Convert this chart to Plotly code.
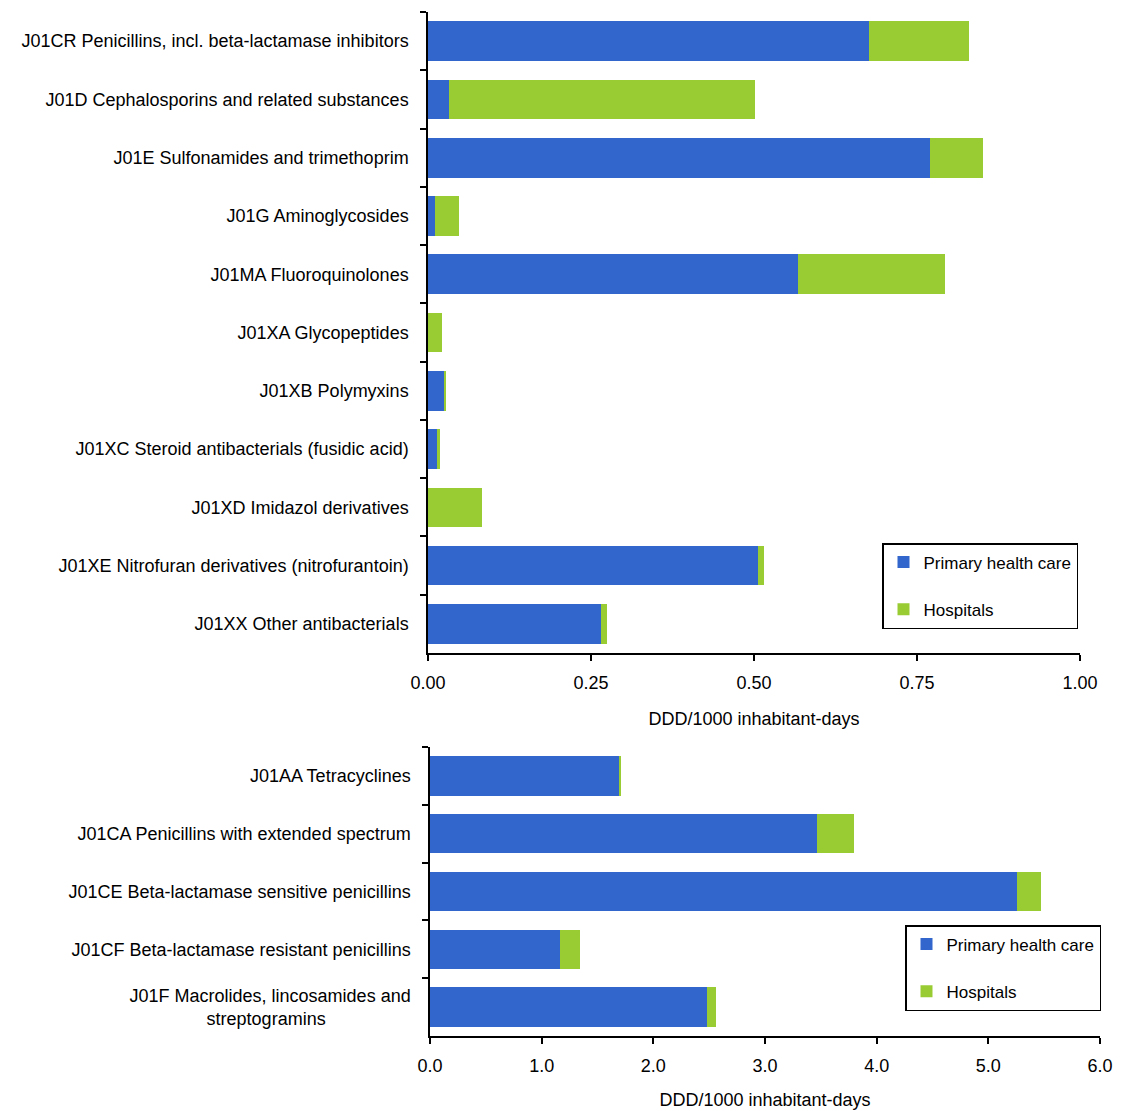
import plotly.graph_objects as go

# ---- data: upper panel ----
top_categories = [
    "J01CR Penicillins, incl. beta-lactamase inhibitors",
    "J01D Cephalosporins and related substances",
    "J01E Sulfonamides and trimethoprim",
    "J01G Aminoglycosides",
    "J01MA Fluoroquinolones",
    "J01XA Glycopeptides",
    "J01XB Polymyxins",
    "J01XC Steroid antibacterials (fusidic acid)",
    "J01XD Imidazol derivatives",
    "J01XE Nitrofuran derivatives (nitrofurantoin)",
    "J01XX Other antibacterials",
]
top_primary = [0.676, 0.032, 0.770, 0.011, 0.567, 0.0, 0.025, 0.014, 0.0, 0.506, 0.266]
top_hospitals = [0.154, 0.470, 0.081, 0.037, 0.226, 0.021, 0.002, 0.004, 0.083, 0.009, 0.009]
top_ticks = [0.0, 0.25, 0.5, 0.75, 1.0]

# ---- data: lower panel ----
bottom_categories = [
    "J01AA Tetracyclines",
    "J01CA Penicillins with extended spectrum",
    "J01CE Beta-lactamase sensitive penicillins",
    "J01CF Beta-lactamase resistant penicillins",
    "J01F Macrolides, lincosamides and<br>streptogramins" + "\u00a0" * 17,
]
bottom_primary = [1.69, 3.47, 5.26, 1.16, 2.48]
bottom_hospitals = [0.02, 0.33, 0.21, 0.18, 0.08]
bottom_ticks = [0, 1, 2, 3, 4, 5, 6]

series_names = ["Primary health care", "Hospitals"]
BLUE = "#3366CC"
GREEN = "#99CC33"
FONT = "Liberation Sans, Arial, sans-serif"

fig = go.Figure()

for name, vals, col, grp in [(series_names[0], top_primary, BLUE, "a"),
                             (series_names[1], top_hospitals, GREEN, "b")]:
    fig.add_trace(go.Bar(x=vals, y=top_categories, orientation="h", name=name,
                         marker=dict(color=col, line=dict(width=0)),
                         xaxis="x", yaxis="y", legend="legend", legendgroup="t" + grp))

for name, vals, col, grp in [(series_names[0], bottom_primary, BLUE, "a"),
                             (series_names[1], bottom_hospitals, GREEN, "b")]:
    fig.add_trace(go.Bar(x=vals, y=bottom_categories, orientation="h", name=name,
                         marker=dict(color=col, line=dict(width=0)),
                         xaxis="x2", yaxis="y2", legend="legend2", legendgroup="b" + grp))

axis_common = dict(showline=True, linecolor="black", linewidth=1.5, ticks="outside",
                   ticklen=6, tickwidth=1.5, tickcolor="black", showgrid=False,
                   zeroline=False, automargin=False,
                   tickfont=dict(family=FONT, size=18, color="black"))

title_font = dict(family=FONT, size=18, color="black")

legend_common = dict(bgcolor="white", bordercolor="black", borderwidth=1.5,
                     font=dict(family=FONT, size=17, color="black"),
                     tracegroupgap=22, xanchor="left", yanchor="top",
                     entrywidth=172, entrywidthmode="pixels", traceorder="grouped")

fig.update_layout(
    width=1126, height=1111,
    margin=dict(l=0, r=0, t=0, b=0),
    paper_bgcolor="white", plot_bgcolor="white",
    barmode="stack", bargap=0.32,
    font=dict(family=FONT, size=17, color="black"),
    xaxis=dict(domain=[0.3730, 0.9520], range=[0, 1.0], tickvals=top_ticks,
               tickformat=".2f", anchor="y", ticklabelstandoff=7,
               title=dict(text="DDD/1000 inhabitant-days", standoff=20, font=title_font),
               **axis_common),
    yaxis=dict(domain=[0.4194, 0.9964], type="category", range=[10.5, -0.5],
               tickson="boundaries", anchor="x", ticklabelstandoff=14, **axis_common),
    xaxis2=dict(domain=[0.3748, 0.9698], range=[0, 6.0], tickvals=bottom_ticks,
                tickformat=".1f", anchor="y2", ticklabelstandoff=7,
                title=dict(text="DDD/1000 inhabitant-days", standoff=18, font=title_font),
                **axis_common),
    yaxis2=dict(domain=[0.0747, 0.3348], type="category", range=[4.5, -0.5],
                tickson="boundaries", anchor="x2", ticklabelstandoff=14, **axis_common),
    legend=dict(x=(882 - 8) / 1126, y=1 - (543 - 8) / 1111, **legend_common),
    legend2=dict(x=(905 - 8) / 1126, y=1 - (925 - 8) / 1111, **legend_common),
)

fig.write_html("out.html")
